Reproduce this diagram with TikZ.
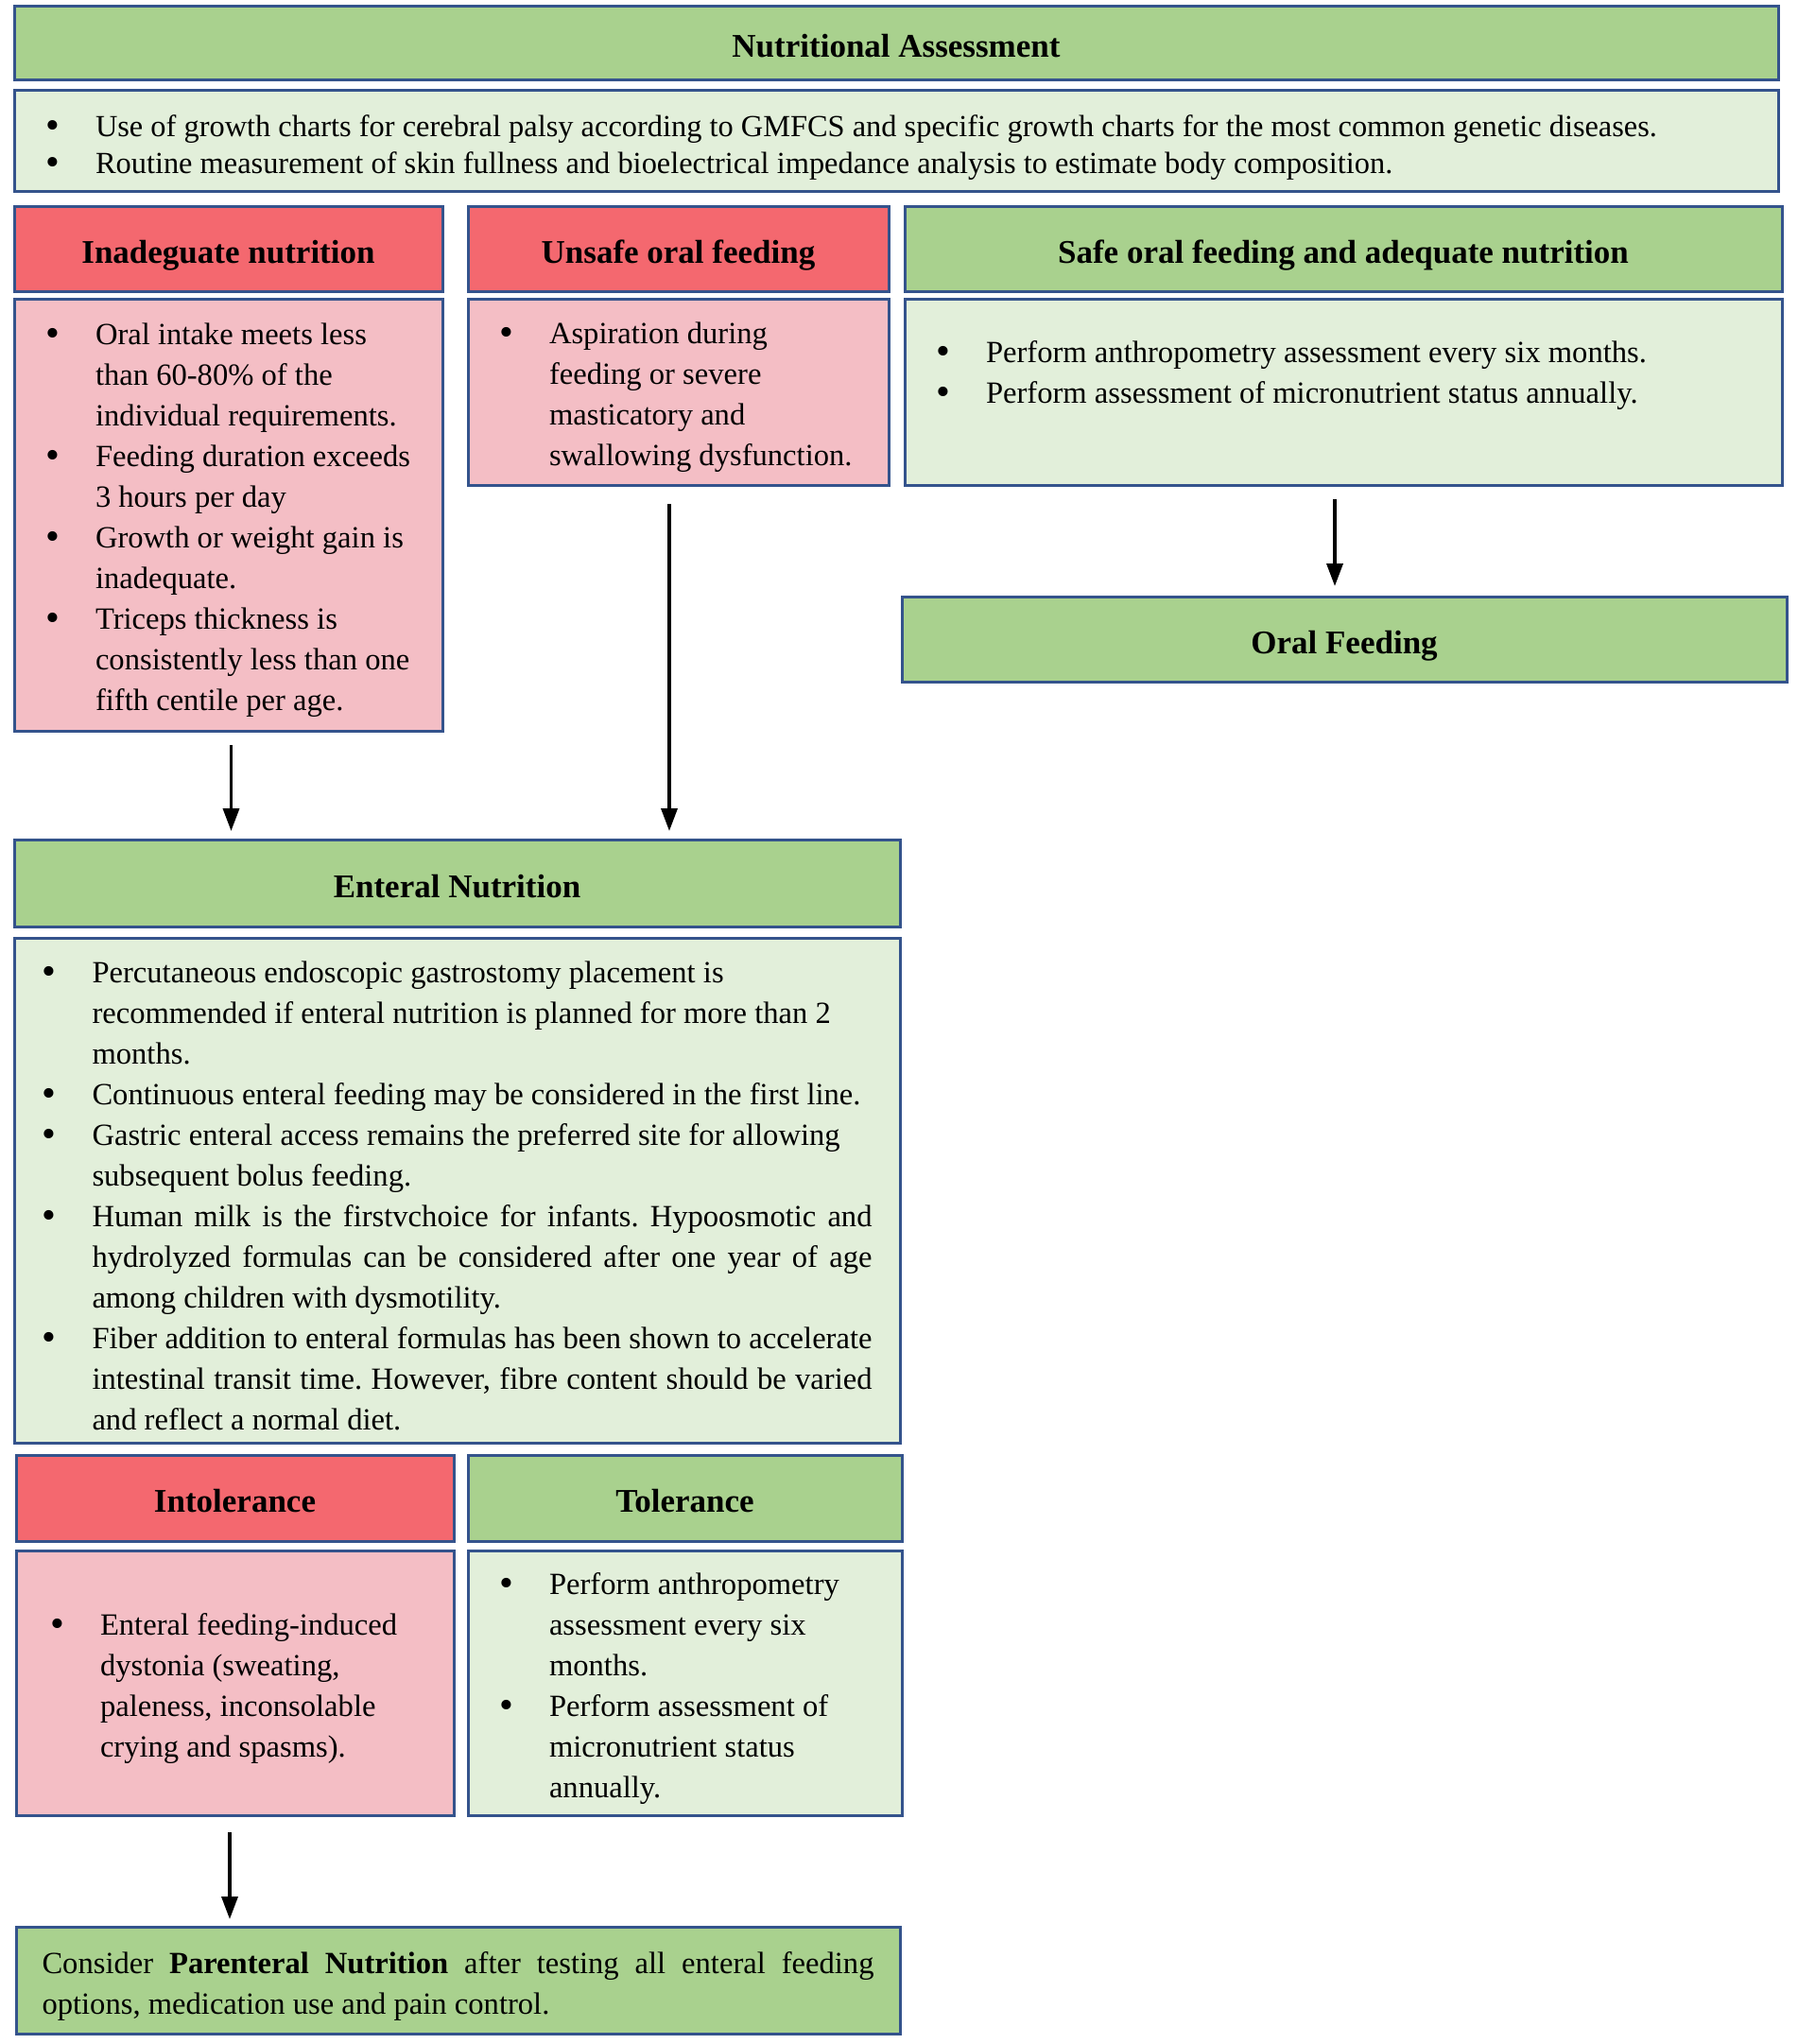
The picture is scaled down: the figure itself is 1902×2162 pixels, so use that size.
\documentclass[tikz,border=0pt]{standalone}
\usepackage{fontspec}
\setmainfont{Liberation Serif}
\usetikzlibrary{arrows.meta}
\frenchspacing

\definecolor{hdrgreen}{HTML}{A9D18E}
\definecolor{bodygreen}{HTML}{E2EFDA}
\definecolor{hdrred}{HTML}{F4686F}
\definecolor{bodypink}{HTML}{F4BEC5}
\definecolor{boxline}{HTML}{34538C}

% bullet line, continuation line, justified bullet paragraph
\newcommand{\bigdot}{\smash{\raisebox{-2pt}{\scalebox{1.3}{\textbullet}}}}
\newcommand{\bul}[1]{\makebox[53pt][l]{\bigdot}\mbox{#1}}
\newcommand{\ind}[1]{\hspace*{53pt}\mbox{#1}}
\newcommand{\jbul}[1]{\par{\rightskip=0pt\relax\spaceskip=0pt\relax\xspaceskip=0pt\relax
  \hangindent=53pt\hangafter=1\noindent\makebox[53pt][l]{\bigdot}#1\par}}

\tikzset{
  box/.style={draw=boxline, line width=3pt, anchor=north west, inner sep=0pt, outer sep=0pt},
  head/.style={box, text height=30pt, text depth=0pt, font=\fontsize{35}{43}\selectfont\bfseries},
  redhead/.style={head, fill=hdrred},
  greenhead/.style={head, fill=hdrgreen},
  body/.style={box, align=left, font=\fontsize{32.6}{43}\selectfont,
    execute at begin node={\spaceskip=0pt\relax\xspaceskip=0pt\relax\rule{0pt}{35pt}}},
  pinkbody/.style={body, fill=bodypink},
  greenbody/.style={body, fill=bodygreen},
  flow/.style={-{Triangle[length=24pt,width=17pt]}, line width=3.5pt},
}

\begin{document}
\begin{tikzpicture}[x=1pt,y=-1pt]
  \useasboundingbox (0,0) rectangle (1902,2162);

  % assessment
  \node[greenhead, minimum width=1866pt, minimum height=78pt] (assess) at (15,7) {Nutritional Assessment};
  \node[greenbody, minimum width=1866pt, minimum height=107pt, text width=1800pt,
        font=\fontsize{32.4}{39}\selectfont] (assessbody) at (15,96)
    {\bul{Use of growth charts for cerebral palsy according to GMFCS and specific growth charts for the most common genetic diseases.}\\
     \bul{Routine measurement of skin fullness and bioelectrical impedance analysis to estimate body composition.}};

  % three branches
  \node[redhead, minimum width=453pt, minimum height=90pt] (inadhead) at (15,218) {Inadeguate nutrition};
  \node[redhead, minimum width=445pt, minimum height=90pt] (unsafehead) at (495,218) {Unsafe oral feeding};
  \node[greenhead, minimum width=928pt, minimum height=90pt] (safehead) at (957,218) {Safe oral feeding and adequate nutrition};

  \node[pinkbody, minimum width=453pt, minimum height=457pt, text width=387pt] (inadbody) at (15,316)
    {\bul{Oral intake meets less}\\
     \ind{than 60-80\% of the}\\
     \ind{individual requirements.}\\
     \bul{Feeding duration exceeds}\\
     \ind{3 hours per day}\\
     \bul{Growth or weight gain is}\\
     \ind{inadequate.}\\
     \bul{Triceps thickness is}\\
     \ind{consistently less than one}\\
     \ind{fifth centile per age.}};
  \node[pinkbody, minimum width=445pt, minimum height=197pt, text width=379pt] (unsafebody) at (495,316)
    {\bul{Aspiration during}\\
     \ind{feeding or severe}\\
     \ind{masticatory and}\\
     \ind{swallowing dysfunction.}};
  \node[greenbody, minimum width=928pt, minimum height=197pt, text width=862pt] (safebody) at (957,316)
    {\bul{Perform anthropometry assessment every six months.}\\
     \bul{Perform assessment of micronutrient status annually.}\rule[-55pt]{0pt}{0pt}};

  \node[greenhead, minimum width=936pt, minimum height=90pt] (oralhead) at (954,631) {Oral Feeding};

  % enteral
  \node[greenhead, minimum width=937pt, minimum height=92pt] (enthead) at (15,888) {Enteral Nutrition};
  \node[greenbody, minimum width=937pt, minimum height=534pt, text width=878pt] (entbody) at (15,992)
    {\bul{Percutaneous endoscopic gastrostomy placement is}\\
     \ind{recommended if enteral nutrition is planned for more than 2}\\
     \ind{months.}\\
     \bul{Continuous enteral feeding may be considered in the first line.}\\
     \bul{Gastric enteral access remains the preferred site for allowing}\\
     \ind{subsequent bolus feeding.}
     \jbul{Human milk is the firstvchoice for infants. Hypoosmotic and\linebreak
       hydrolyzed formulas can be considered after one year of age\linebreak
       among children with dysmotility.}
     \jbul{Fiber addition to enteral formulas has been shown to accelerate\linebreak
       intestinal transit time. However, fibre content should be varied\linebreak
       and reflect a normal diet.}};

  \node[redhead, minimum width=463pt, minimum height=91pt] (intolhead) at (17,1539) {Intolerance};
  \node[greenhead, minimum width=459pt, minimum height=91pt] (tolhead) at (495,1539) {Tolerance};
  \node[pinkbody, minimum width=463pt, minimum height=280pt, text width=391pt] (intolbody) at (17,1640)
    {\bul{Enteral feeding-induced}\\
     \ind{dystonia (sweating,}\\
     \ind{paleness, inconsolable}\\
     \ind{crying and spasms).}};
  \node[greenbody, minimum width=459pt, minimum height=280pt, text width=393pt] (tolbody) at (495,1640)
    {\bul{Perform anthropometry}\\
     \ind{assessment every six}\\
     \ind{months.}\\
     \bul{Perform assessment of}\\
     \ind{micronutrient status}\\
     \ind{annually.}};

  \node[greenbody, fill=hdrgreen, align=justify, minimum width=935pt, minimum height=113pt,
        text width=880pt] (parent) at (17,2038)
    {Consider \textbf{Parenteral Nutrition} after testing all enteral feeding\linebreak
     options, medication use and pain control.};

  % arrows
  \coordinate (inadout) at ([xshift=3pt]inadbody.south);
  \coordinate (unsafeout) at ([xshift=-9.5pt]unsafebody.south);
  \coordinate (safeout) at ([xshift=-9pt]safebody.south);
  \coordinate (intolout) at ([xshift=-5.5pt]intolbody.south);
  \draw[flow, shorten <=15pt, shorten >=9pt] (inadout) -- (inadout |- enthead.north);
  \draw[flow, shorten <=20pt, shorten >=9pt] (unsafeout) -- (unsafeout |- enthead.north);
  \draw[flow, shorten <=15pt, shorten >=11pt] (safeout) -- (safeout |- oralhead.north);
  \draw[flow, shorten <=18pt, shorten >=8pt] (intolout) -- (intolout |- parent.north);
\end{tikzpicture}
\end{document}
